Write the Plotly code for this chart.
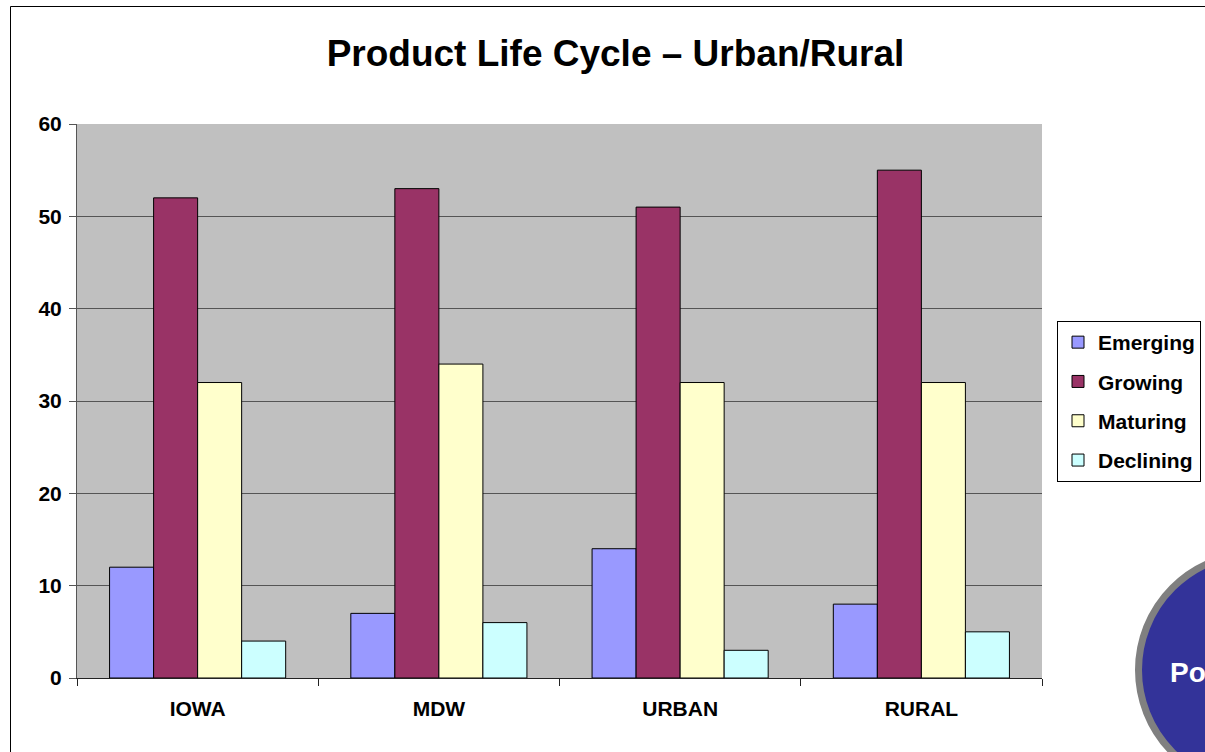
import plotly.graph_objects as go

categories = ["IOWA", "MDW", "URBAN", "RURAL"]
emerging = [12, 7, 14, 8]
growing = [52, 53, 51, 55]
maturing = [32, 34, 32, 32]
declining = [4, 6, 3, 5]
series_names = ["Emerging", "Growing", "Maturing", "Declining"]
series_colors = ["#9999FF", "#993366", "#FFFFCC", "#CCFFFF"]
y_ticks = [0, 10, 20, 30, 40, 50, 60]

W, H = 1205, 752
L, R, T, B = 77, 163, 124, 74
PW, PH = W - L - R, H - T - B


def px(x):
    return (x - L) / PW


def py(y):
    return (H - B - y) / PH


FONT = "Liberation Sans, Arial, sans-serif"

fig = go.Figure()
for name, vals, col in zip(series_names, [emerging, growing, maturing, declining], series_colors):
    fig.add_trace(go.Bar(
        x=categories, y=vals, name=f"<b>{name}</b>", legendgroup=name,
        marker=dict(color=col, line=dict(color="#000000", width=1)),
    ))

fig.update_layout(
    width=W, height=H,
    margin=dict(l=L, r=R, t=T, b=B, pad=0, autoexpand=False),
    paper_bgcolor="white",
    plot_bgcolor="#C0C0C0",
    barmode="group",
    bargap=0.27,
    bargroupgap=0,
    font=dict(family=FONT, color="black"),
    title=dict(
        text="<b>Product Life Cycle – Urban/Rural</b>",
        x=615.5 / W, xref="container", xanchor="center",
        y=1 - 53 / H, yref="container", yanchor="middle",
        font=dict(size=37, family=FONT, color="black"),
    ),
    legend=dict(
        x=1057 / W, y=1 - 321 / H, xanchor="left", yanchor="top",
        xref="container", yref="container",
        bordercolor="black", borderwidth=1, bgcolor="white",
        font=dict(size=21, family=FONT, color="black"),
        traceorder="grouped", tracegroupgap=9,
        itemclick=False, itemdoubleclick=False,
    ),
    showlegend=True,
)

fig.update_yaxes(
    range=[0, 60], tickvals=y_ticks, ticktext=[f"<b>{v}</b>" for v in y_ticks],
    showgrid=True, gridcolor="#555555", gridwidth=1,
    showline=True, linecolor="#555555", linewidth=1,
    ticks="outside", ticklen=7, tickcolor="#555555",
    tickfont=dict(size=21, family=FONT, color="black"),
    ticklabelstandoff=3,
    zeroline=False, fixedrange=True,
)
fig.update_xaxes(
    tickvals=categories, ticktext=[f"<b>{c}</b>" for c in categories],
    tickson="boundaries",
    showline=True, linecolor="#222222", linewidth=1,
    ticks="outside", ticklen=7, tickcolor="#222222",
    tickfont=dict(size=21, family=FONT, color="black"),
    ticklabelstandoff=12,
    showgrid=False, fixedrange=True,
)

# outer chart border
fig.add_shape(type="rect", xref="paper", yref="paper",
              x0=px(10.5), x1=px(1240), y0=py(6.5), y1=py(790),
              line=dict(color="black", width=1), fillcolor="rgba(0,0,0,0)", layer="below")

# decorative circle at bottom right
cx, cy, r = 1255, 670, 116.5
fig.add_shape(type="circle", xref="paper", yref="paper",
              x0=px(cx - r), x1=px(cx + r), y0=py(cy - r), y1=py(cy + r),
              line=dict(color="#808080", width=7), fillcolor="#333399", layer="above")
fig.add_annotation(text="<b>Po</b>", xref="paper", yref="paper",
                   x=px(1168), y=py(672), xanchor="left", yanchor="middle",
                   showarrow=False, font=dict(size=28, family=FONT, color="white"))

fig.write_html(
    "out.html",
    config={"displayModeBar": False, "staticPlot": False},
    post_script="document.body.style.margin='0';document.body.style.overflow='hidden';",
)
